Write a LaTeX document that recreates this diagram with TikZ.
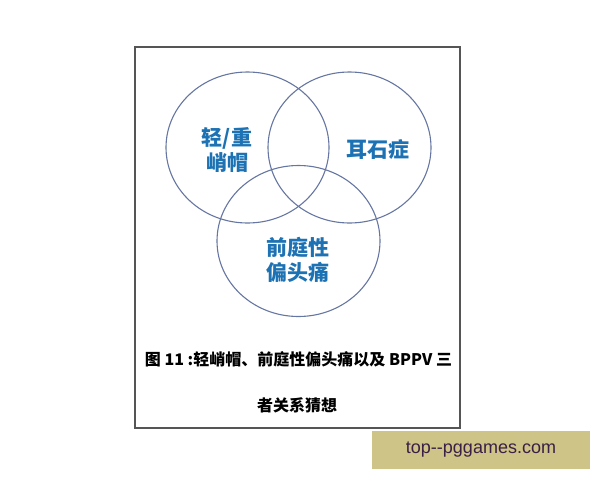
\documentclass[tikz,border=0pt]{standalone}
\usepackage{fontspec}
\setmainfont{Liberation Sans}
\newfontfamily\cjk{Noto Sans CJK SC}
\usetikzlibrary{positioning, shapes.geometric}

\definecolor{ringblue}{HTML}{6676A2}
\definecolor{labelblue}{HTML}{1D72B3}
\definecolor{framegray}{HTML}{555555}
\definecolor{tagtan}{HTML}{CFC487}
\definecolor{tagtext}{HTML}{3B1F45}

\begin{document}
\begin{tikzpicture}
    [
        x=1pt, y=-1pt,
        ring/.style = {draw=ringblue, line width=1.1pt, ellipse, inner sep=0pt, minimum width=163pt, minimum height=151pt},
        label/.style = {font=\cjk\bfseries\fontsize{21}{25}\selectfont, text=labelblue, align=center},
        capt/.style = {font=\cjk\bfseries\fontsize{16}{18}\selectfont, text=black},
    ]
    \useasboundingbox (0,0) rectangle (600,480);

    \node [draw=framegray, line width=1.2pt, inner sep=0pt, minimum width=325pt, minimum height=381pt] (frame) at (297.5,237.5) {};

    \node [ring] (migraine) at (247.5,147.5) {};
    \node [ring] (otolith) at (349.5,147.5) {};
    \node [ring] (vestib) at (298.5,241) {};

    \node [label] (lmig) at (227,149.5) {轻/重\\峭帽};
    \node [label] (loto) at (378,150) {耳石症};
    \node [label] (lves) at (298,259.5) {前庭性\\偏头痛};

    \node [capt] (cap1) at (298.5,359) {图 11 :轻峭帽、前庭性偏头痛以及 BPPV 三};
    \node [capt] (cap2) at (297,405) {者关系猜想};

    \node [fill=tagtan, inner sep=0pt, minimum width=218pt, minimum height=38pt, text=tagtext, font=\fontsize{18}{20}\selectfont] (tag) at (481,450) {top-{}-pggames.com};
\end{tikzpicture}
\end{document}
